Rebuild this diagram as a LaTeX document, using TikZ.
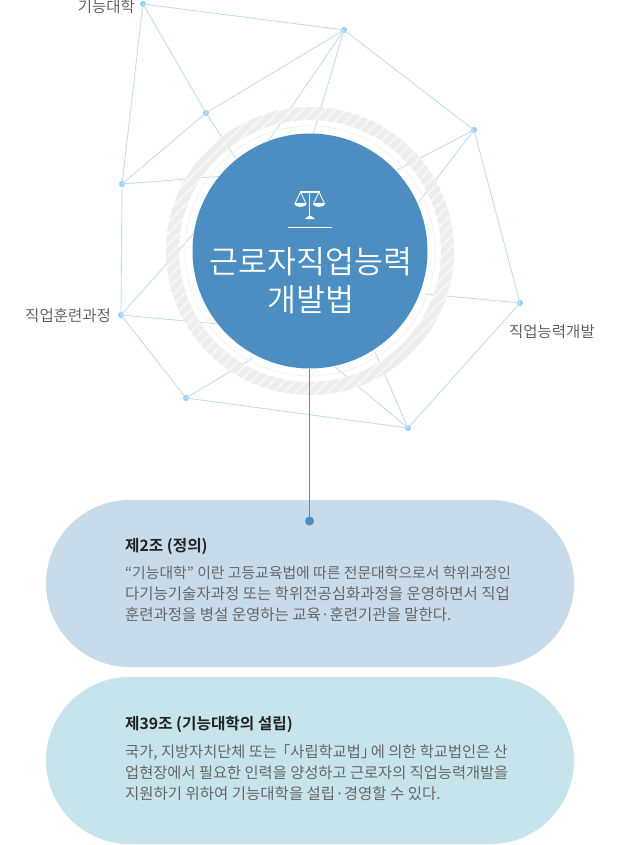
\documentclass[tikz,border=0pt]{standalone}
\usetikzlibrary{calc}
\usepackage{fontspec}
\setmainfont{Noto Sans CJK KR}[BoldFont={* Bold}]
\newfontfamily\lightkr{Noto Sans CJK KR DemiLight}
\definecolor{netline}{HTML}{C3DDEF}
\definecolor{netdot}{HTML}{8FD0FA}
\definecolor{disc}{HTML}{4C8EC1}
\definecolor{ringbase}{HTML}{F7F7F7}
\definecolor{ringstripe}{HTML}{EDEDED}
\definecolor{ringthin}{HTML}{F3F3F3}
\definecolor{pillone}{HTML}{C8DBEB}
\definecolor{pilltwo}{HTML}{C7E4EC}
\definecolor{labeltext}{HTML}{555555}
\definecolor{bodytext}{HTML}{666666}
\definecolor{headtext}{HTML}{222222}
\tikzset{
 net/.style={draw=netline,line width=0.9pt},
 netdotstyle/.style={circle,fill=netdot,inner sep=0pt,minimum size=6pt},
 label/.style={text=labeltext,font=\lightkr\fontsize{15.5}{15.5}\selectfont,inner sep=0pt},
 pill/.style={rounded corners=83.5pt,line width=0pt},
 head/.style={anchor=west,text=headtext,font=\bfseries\fontsize{15.7}{15.7}\selectfont,inner sep=0pt},
 body/.style={anchor=north west,text=bodytext,font=\fontsize{15.3}{21}\selectfont,inner sep=0pt,align=left},
}
\begin{document}
\begin{tikzpicture}[x=1pt,y=-1pt]
\useasboundingbox (0,0) rectangle (620,845);
\coordinate (cc) at (310,251);
\node[netdotstyle] (A) at (143,4) {};
\node[netdotstyle] (B) at (344,30) {};
\node[netdotstyle] (C) at (474,130) {};
\node[netdotstyle] (D) at (520,303) {};
\node[netdotstyle] (E) at (408,428) {};
\node[netdotstyle] (F) at (186,398) {};
\node[netdotstyle] (G) at (121,315) {};
\node[netdotstyle] (H) at (122,184) {};
\node[netdotstyle] (I) at (206,113) {};
\foreach \p/\q in {A/B,B/C,C/D,D/E,E/F,F/G,G/H,H/A,A/I,I/B,I/H}
  \draw[net] (\p.center) -- (\q.center);
\foreach \p/\x/\y in {I/240/165,H/225/176,B/269/140,B/313/135,C/397/170,C/418/203,D/425/294,E/375/352,E/335/367,F/253/358,G/218/324,G/195/232}
  \draw[net] (\p.center) -- (\x,\y);
% ring
\begin{scope}[even odd rule]
 \clip (cc) circle[radius=144] (cc) circle[radius=131];
 \fill[ringbase] (cc) circle[radius=145];
 \foreach \d in {-220,-209,...,220}
   \draw[ringstripe,line width=5.5pt] ($(cc)+(\d-150,150)$) -- ($(cc)+(\d+150,-150)$);
\end{scope}
\draw[ringthin,line width=1pt] (cc) circle[radius=125];
\fill[disc] (cc) circle[radius=117.5];
% scales icon
\begin{scope}[line join=round]
 \draw[white,line width=1.2pt] (309.8,190.5) -- (309.8,216);
 \draw[white,line width=1.2pt] (300,192) -- (320,192);
 \fill[white] (304.8,219) -- (314.8,219) -- (311.3,216) -- (308.3,216) -- cycle;
 \draw[white,line width=0.8pt] (300.5,192) -- (295,203.5) -- (306,203.5) -- cycle;
 \draw[white,line width=0.8pt] (319,192) -- (313.5,203.5) -- (324.5,203.5) -- cycle;
 \fill[white] (294,203.5) .. controls (295,208) and (306,208) .. (307,203.5) -- cycle;
 \fill[white] (312.5,203.5) .. controls (313.5,208) and (324.5,208) .. (325.5,203.5) -- cycle;
\end{scope}
\draw[white,line width=0.8pt] (288,227.5) -- (332,227.5);
\node[text=white,font=\lightkr\fontsize{31.5}{38}\selectfont,align=center,inner sep=0pt] (title) at (311,281) {근로자직업능력\\개발법};
\node[label,anchor=east] (la) at (135,6.5) {기능대학};
\node[label,anchor=east] (lg) at (111,316) {직업훈련과정};
\node[label,anchor=west] (ld) at (509,332) {직업능력개발};
% pills
\fill[pillone,pill] (46,500) rectangle (574,667);
\fill[pilltwo,pill] (46,677) rectangle (574,844);
\node[circle,fill=disc,inner sep=0pt,minimum size=9pt] (pin) at (309.5,521) {};
\draw[disc,line width=1pt] (309.5,368.5) -- (pin.center);
\node[head] (h1) at (125,546) {제2조 (정의)};
\node[body] (b1) at (125,566) {{\fontsize{14.85}{21.5}\selectfont “기능대학” 이란 고등교육법에 따른 전문대학으로서 학위과정인}\\{\fontsize{15.5}{21.5}\selectfont 다기능기술자과정 또는 학위전공심화과정을 운영하면서 직업}\\{\fontsize{15.5}{21.5}\selectfont 훈련과정을 병설 운영하는 교육·훈련기관을 말한다.}};
\node[head] (h2) at (125,724) {제39조 (기능대학의 설립)};
\node[body] (b2) at (125,744) {국가, 지방자치단체 또는 \hspace{-.35em}「사립학교법」\hspace{-.35em}에 의한 학교법인은 산\\업현장에서 필요한 인력을 양성하고 근로자의 직업능력개발을\\{\fontsize{15.5}{21}\selectfont 지원하기 위하여 기능대학을 설립·경영할 수 있다.}};
\end{tikzpicture}
\end{document}
